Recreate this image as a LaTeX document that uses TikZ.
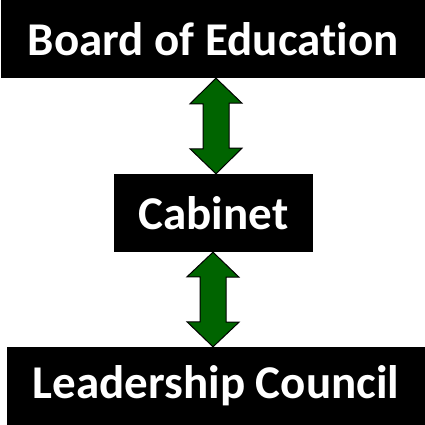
\documentclass[tikz,border=0pt]{standalone}
\usepackage{fontspec}
\setmainfont{Carlito}[Ligatures=NoCommon]
\usepackage{tikz}

\definecolor{arrowgreen}{RGB}{0,100,0}

\begin{document}
\begin{tikzpicture}[x=1pt,y=-1pt]
			\tikzstyle{every node}+=[inner sep=0pt]
			\tikzstyle{tierbox}=[fill=black, text=white, font=\bfseries\fontsize{47}{52}\selectfont, minimum height=78pt]
			\tikzstyle{updown}=[draw=black, fill=arrowgreen, line width=1pt, line join=miter]
			\useasboundingbox (0,0) rectangle (425,425);
			% the three tiers
			\node [tierbox, minimum width=424pt] (board) at (213,39) {Board of Education};
			\node [tierbox, minimum width=199pt] (cabinet) at (213.5,213) {Cabinet};
			\node [tierbox, minimum width=418pt] (council) at (216,386) {Leadership Council};
			% two-way arrows between them
			\draw [updown] ([xshift=3pt]board.south) -- ++(26,25) -- ++(-13,0) -- ++(0,45) -- ++(13,0)
				-- ([xshift=2.5pt]cabinet.north) -- ++(-26,-25) -- ++(13,0) -- ++(0,-45) -- ++(-13,0) -- cycle;
			\draw [updown] ([xshift=-0.5pt]cabinet.south) -- ++(26,25) -- ++(-13,0) -- ++(0,45) -- ++(13,0)
				-- ([xshift=-3pt]council.north) -- ++(-26,-25) -- ++(13,0) -- ++(0,-45) -- ++(-13,0) -- cycle;
		\end{tikzpicture}
\end{document}
